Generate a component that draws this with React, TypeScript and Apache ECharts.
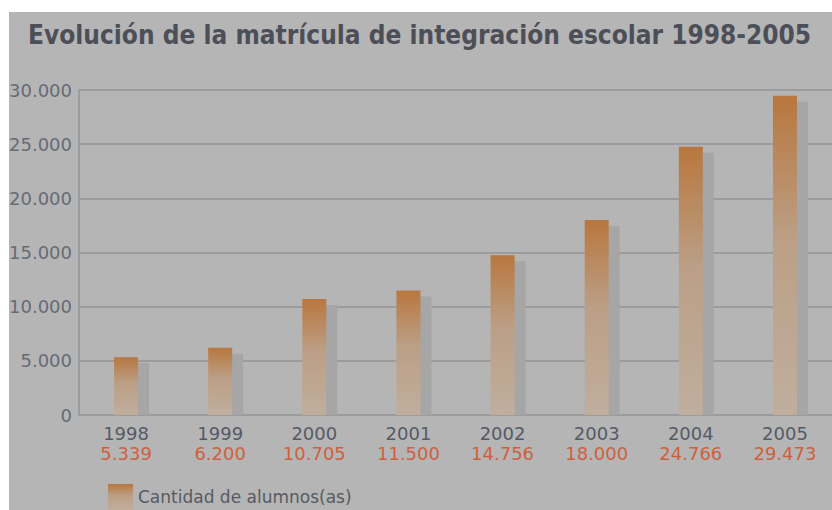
import React, { useEffect, useRef } from "react";
import * as echarts from "echarts";

const years = ["1998", "1999", "2000", "2001", "2002", "2003", "2004", "2005"];
const students = [5339, 6200, 10705, 11500, 14756, 18000, 24766, 29473];
const seriesName = "Cantidad de alumnos(as)";
const titleText = "Evolución de la matrícula de integración escolar 1998-2005";

const fmt = (n: number) => String(n).replace(/\B(?=(\d{3})+(?!\d))/g, ".");

export default function App() {
  const ref = useRef<HTMLDivElement>(null);
  useEffect(() => {
    if (!ref.current) return;
    const chart = echarts.init(ref.current, null, { renderer: "svg" });
    const font = "DejaVu Sans";
    chart.setOption({
      animation: false,
      backgroundColor: "#ffffff",
      graphic: [
        {
          type: "rect",
          z: -10,
          silent: true,
          shape: { x: 9, y: 12, width: 830, height: 510 },
          style: { fill: "#b5b5b5" },
        },
      ],
      title: {
        text: titleText,
        left: 23,
        top: 17,
        textStyle: {
          fontFamily: "DejaVu Sans Condensed",
          fontWeight: "bold",
          fontSize: 26,
          color: "#4d4f58",
        },
      },
      legend: {
        left: 103,
        top: 479,
        itemWidth: 25,
        itemHeight: 26,
        itemGap: 8,
        textStyle: { fontFamily: font, fontSize: 17, color: "#555a62" },
        data: [{ name: seriesName, icon: "rect" }],
      },
      grid: { left: 79, right: -2, top: 90, bottom: 95 },
      xAxis: {
        type: "category",
        data: years,
        axisLine: { lineStyle: { color: "#9c9c9c", width: 2 } },
        axisTick: { show: false },
        axisLabel: {
          margin: 8,
          formatter: (v: string, i: number) => `{y|${v}}\n{v|${fmt(students[i])}}`,
          rich: {
            y: { fontFamily: font, fontSize: 18, color: "#555a66", lineHeight: 20 },
            v: { fontFamily: font, fontSize: 18, color: "#d0603c", lineHeight: 20 },
          },
        },
      },
      yAxis: {
        type: "value",
        min: 0,
        max: 30000,
        interval: 5000,
        axisLine: { show: true, lineStyle: { color: "#9c9c9c", width: 2 } },
        axisTick: { show: false },
        splitLine: { lineStyle: { color: "#9c9c9c", width: 2 } },
        axisLabel: {
          margin: 7,
          fontFamily: font,
          fontSize: 18,
          color: "#666b75",
          formatter: (v: number) => fmt(v),
        },
      },
      series: [
        {
          type: "custom",
          name: "shadow",
          z: 1,
          silent: true,
          data: students.map((v, i) => [i, v]),
          encode: { x: 0, y: 1 },
          renderItem: (params: any, api: any) => {
            const top = api.coord([api.value(0), api.value(1)]);
            const base = api.coord([api.value(0), 0]);
            const w = 24;
            const x = top[0] - w / 2 + 11;
            const y = top[1] + 6;
            return {
              type: "rect",
              shape: { x, y, width: w, height: base[1] - y },
              style: { fill: "#a6a6a6" },
            };
          },
        },
        {
          type: "bar",
          name: seriesName,
          z: 2,
          barWidth: 24,
          data: students,
          itemStyle: {
            color: new echarts.graphic.LinearGradient(0, 0, 0, 1, [
              { offset: 0, color: "#b8773e" },
              { offset: 0.45, color: "#bb9f86" },
              { offset: 1, color: "#c0ae9d" },
            ]),
          },
        },
      ],
    });
    return () => chart.dispose();
  }, []);
  return (
    <div
      ref={ref}
      style={{ position: "fixed", left: 0, top: 0, width: 832, height: 510 }}
    />
  );
}
